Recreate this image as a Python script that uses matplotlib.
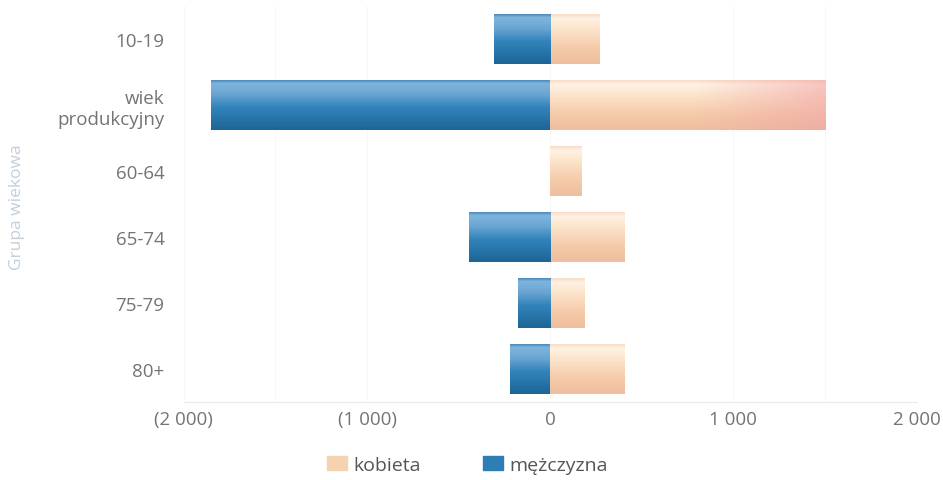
import numpy as np
import matplotlib.pyplot as plt
from matplotlib.colors import to_rgb
from matplotlib.patches import Patch
from matplotlib.ticker import FuncFormatter

# age groups, top to bottom
groups = ["10-19", "wiek\nprodukcyjny", "60-64", "65-74", "75-79", "80+"]
men = [306, 1850, 0, 443, 178, 218]
women = [268, 1505, 170, 408, 186, 408]

plt.rcParams['font.family'] = ['Open Sans', 'DejaVu Sans']

# vertical shading of the bars (top -> bottom)
blue_stops = [(0.0, "#3f80b1"), (0.08, "#7fb5dd"), (0.3, "#69a5d1"), (0.55, "#3384bc"), (1.0, "#1c6596")]
peach_stops = [(0.0, "#f6d8c0"), (0.1, "#fff2e4"), (0.35, "#fbe1c7"), (0.7, "#f5caa9"), (1.0, "#eebe9f")]
pink = np.array(to_rgb("#f0a2a6"))


def shade(stops, n=60):
    t = np.linspace(0, 1, n)
    pos = [s[0] for s in stops]
    cols = np.array([to_rgb(s[1]) for s in stops])
    return np.stack([np.interp(t, pos, cols[:, k]) for k in range(3)], axis=1)


def paint(ax, bars, stops, tint=False):
    col = shade(stops)
    for b in bars:
        x0, y0 = b.get_x(), b.get_y()
        x1, y1 = x0 + b.get_width(), y0 + b.get_height()
        if abs(x1 - x0) < 1e-9:
            continue
        xs = np.linspace(x0, x1, 80)
        img = np.repeat(col[:, None, :], len(xs), axis=1)
        if tint:
            f = np.clip((xs - 800) / 700, 0, 1) * 0.55
            img = img * (1 - f[None, :, None]) + pink[None, None, :] * f[None, :, None]
        b.set_facecolor("none")
        if x1 < x0:
            img = img[:, ::-1, :]
        im = ax.imshow(img, extent=(min(x0, x1), max(x0, x1), y1, y0), origin="upper",
                       aspect="auto", interpolation="bilinear", zorder=2)
        im.set_clip_path(b)


fig = plt.figure(figsize=(9.43, 4.81), dpi=100)
ax = fig.add_axes([0.195, 0.162, 0.777, 0.823])

pos = list(range(len(groups)))
wb = ax.barh(pos, women, height=0.76, color="#f4c6a4", label="kobieta", linewidth=0)
mb = ax.barh(pos, [-m for m in men], height=0.76, color="#2b78ad", label="mężczyzna", linewidth=0)
paint(ax, wb, peach_stops, tint=True)
paint(ax, mb, blue_stops)

ax.set_ylim(len(groups) - 0.5, -0.5)
ax.set_xlim(-2000, 2000)
ax.set_yticks(pos)
ax.set_yticklabels(groups)
ax.set_xticks([-2000, -1000, 0, 1000, 2000])


def fmt(v, _):
    s = f"{abs(int(v)):,}".replace(",", " ")
    return f"({s})" if v < 0 else s


ax.xaxis.set_major_formatter(FuncFormatter(fmt))
ax.tick_params(axis="both", which="both", length=0, colors="#747474", labelsize=13.5)
ax.tick_params(axis="y", pad=14)
ax.tick_params(axis="x", pad=6)

for side in ["top", "right", "left"]:
    ax.spines[side].set_visible(False)
ax.spines["bottom"].set_color("#e6ebf1")

ax.set_xticks([-1500, 1500], minor=True)
ax.grid(axis="x", which="both", color="#f8f8f8", linewidth=0.8)
ax.set_axisbelow(True)

fig.text(0.018, 0.57, "Grupa wiekowa", rotation=90, ha="center", va="center",
         color="#c3cfdb", fontsize=12.5)

# legend patches with plain colours
handles = [Patch(color="#f6d2b3", label="kobieta"), Patch(color="#2f7db5", label="mężczyzna")]
fig.legend(handles=handles, loc="center", bbox_to_anchor=(0.496, 0.031), ncol=2,
           frameon=False, fontsize=14, labelcolor="#555555", handlelength=1.0,
           handleheight=0.7, handletextpad=0.35, columnspacing=3.2)

fig.savefig("out.png", dpi=100)
